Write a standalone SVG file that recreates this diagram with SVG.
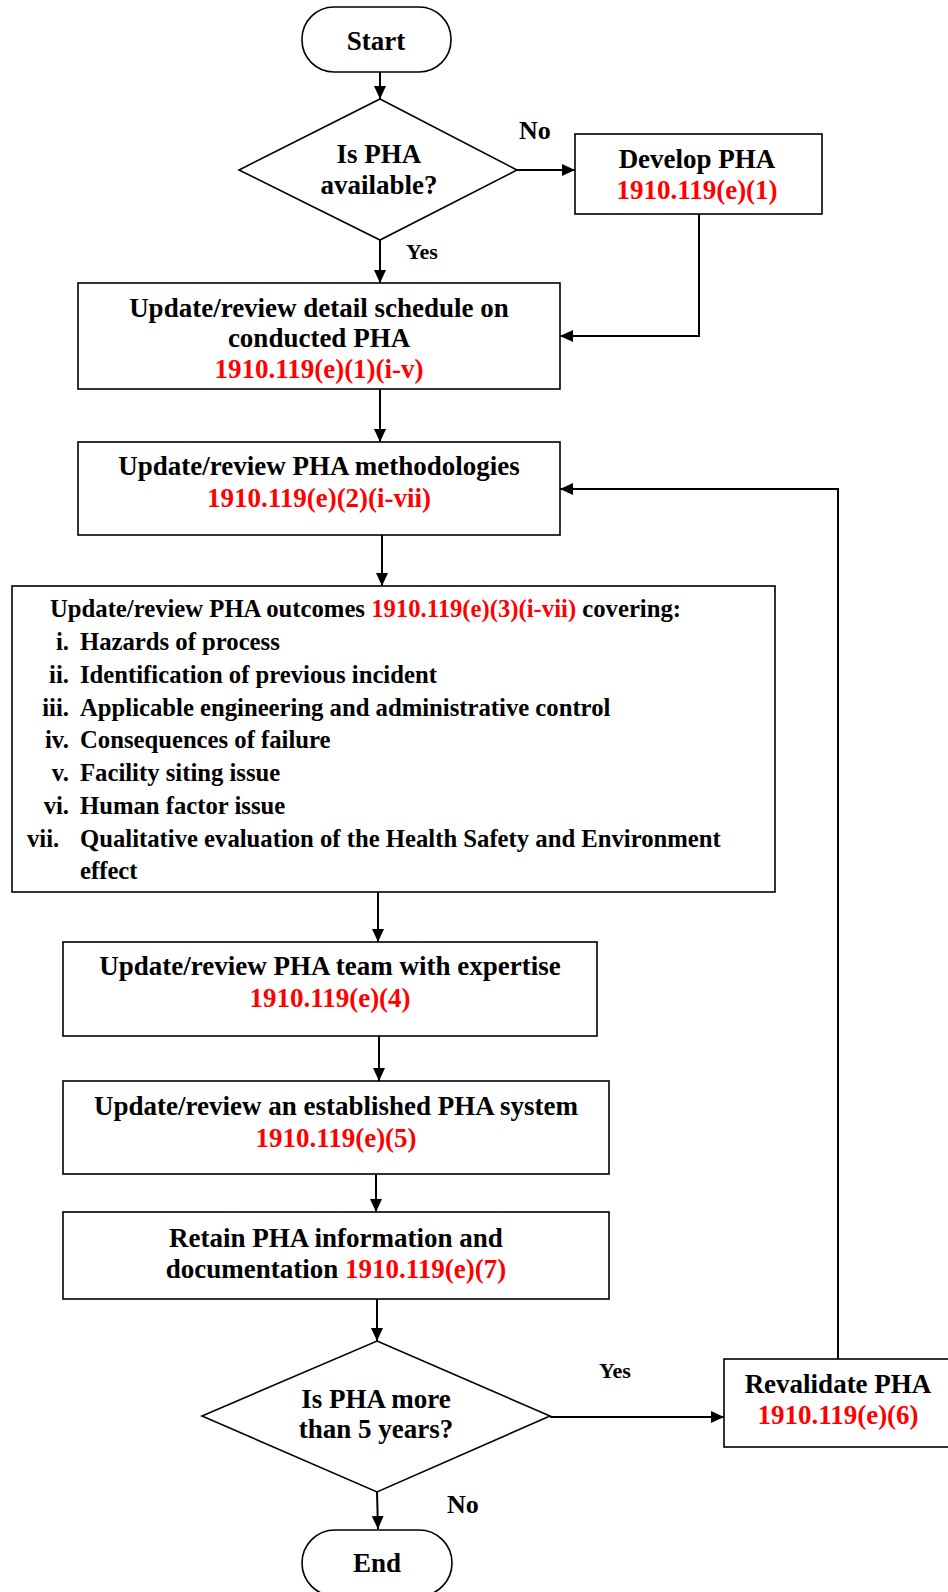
<svg xmlns="http://www.w3.org/2000/svg" width="948" height="1592" viewBox="0 0 948 1592">
<style>
  .shape { fill: #ffffff; stroke: #000000; stroke-width: 1.6; }
  .conn { fill: none; stroke: #000000; stroke-width: 2; }
  text { font-family: "Liberation Serif", "Times New Roman", serif; font-weight: bold; fill: #000000; }
  .t { font-size: 27px; text-anchor: middle; }
  .s { font-size: 24.7px; }
  .r { fill: #ff0000; }
  .yes { font-size: 22px; }
  .no { font-size: 26px; }
  .num { text-anchor: end; }
</style>
<defs>
  <marker id="arrow" markerUnits="userSpaceOnUse" markerWidth="14" markerHeight="12" refX="13" refY="6" orient="auto">
    <path d="M0,0 L13,6 L0,12 Z" fill="#000000"/>
  </marker>
</defs>
<rect width="948" height="1592" fill="#ffffff"/>

<g id="connectors">
  <line class="conn" x1="380" y1="72" x2="380" y2="99" marker-end="url(#arrow)"/>
  <line class="conn" x1="517" y1="170" x2="575" y2="170" marker-end="url(#arrow)"/>
  <polyline class="conn" points="699,214 699,336 560,336" marker-end="url(#arrow)"/>
  <line class="conn" x1="380" y1="240" x2="380" y2="283" marker-end="url(#arrow)"/>
  <line class="conn" x1="380" y1="389" x2="380" y2="442" marker-end="url(#arrow)"/>
  <line class="conn" x1="382" y1="535" x2="382" y2="586" marker-end="url(#arrow)"/>
  <line class="conn" x1="378" y1="892" x2="378" y2="942" marker-end="url(#arrow)"/>
  <line class="conn" x1="379" y1="1036" x2="379" y2="1081" marker-end="url(#arrow)"/>
  <line class="conn" x1="376" y1="1174" x2="376" y2="1212" marker-end="url(#arrow)"/>
  <line class="conn" x1="377" y1="1299" x2="377" y2="1341" marker-end="url(#arrow)"/>
  <line class="conn" x1="550" y1="1417" x2="724" y2="1417" marker-end="url(#arrow)"/>
  <polyline class="conn" points="838,1359 838,489 560,489" marker-end="url(#arrow)"/>
  <line class="conn" x1="377" y1="1492" x2="378" y2="1529" marker-end="url(#arrow)"/>
  <text class="no" x="519" y="139">No</text>
  <text class="yes" x="406" y="259">Yes</text>
  <text class="yes" x="599" y="1378">Yes</text>
  <text class="no" x="447" y="1513">No</text>
</g>

<g id="start">
  <rect class="shape" x="302" y="7" width="149" height="65" rx="32" ry="32"/>
  <text class="t" x="376" y="50">Start</text>
</g>

<g id="decision1">
  <polygon class="shape" points="380,99 517,170 380,240 239,170"/>
  <text class="t" x="379" y="163">Is PHA</text>
  <text class="t" x="379" y="194">available?</text>
</g>

<g id="develop">
  <rect class="shape" x="575" y="134" width="247" height="80"/>
  <text class="t" x="697" y="168">Develop PHA</text>
  <text class="t r" x="697" y="199">1910.119(e)(1)</text>
</g>

<g id="schedule">
  <rect class="shape" x="78" y="283" width="482" height="106"/>
  <text class="t" x="319" y="317">Update/review detail schedule on</text>
  <text class="t" x="319" y="347">conducted PHA</text>
  <text class="t r" x="319" y="378">1910.119(e)(1)(i-v)</text>
</g>

<g id="methodologies">
  <rect class="shape" x="78" y="442" width="482" height="93"/>
  <text class="t" x="319" y="475">Update/review PHA methodologies</text>
  <text class="t r" x="319" y="507">1910.119(e)(2)(i-vii)</text>
</g>

<g id="outcomes">
  <rect class="shape" x="12" y="586" width="763" height="306"/>
  <text class="s" x="50" y="617">Update/review PHA outcomes <tspan class="r">1910.119(e)(3)(i-vii)</tspan> covering:</text>
  <text class="s num" x="69" y="650">i.</text>
  <text class="s" x="80" y="650">Hazards of process</text>
  <text class="s num" x="69" y="683">ii.</text>
  <text class="s" x="80" y="683">Identification of previous incident</text>
  <text class="s num" x="69" y="716">iii.</text>
  <text class="s" x="80" y="716">Applicable engineering and administrative control</text>
  <text class="s num" x="69" y="748">iv.</text>
  <text class="s" x="80" y="748">Consequences of failure</text>
  <text class="s num" x="69" y="781">v.</text>
  <text class="s" x="80" y="781">Facility siting issue</text>
  <text class="s num" x="69" y="814">vi.</text>
  <text class="s" x="80" y="814">Human factor issue</text>
  <text class="s" x="27" y="847">vii.</text>
  <text class="s" x="80" y="847">Qualitative evaluation of the Health Safety and Environment</text>
  <text class="s" x="80" y="879">effect</text>
</g>

<g id="team">
  <rect class="shape" x="63" y="942" width="534" height="94"/>
  <text class="t" x="330" y="975">Update/review PHA team with expertise</text>
  <text class="t r" x="330" y="1007">1910.119(e)(4)</text>
</g>

<g id="system">
  <rect class="shape" x="63" y="1081" width="546" height="93"/>
  <text class="t" x="336" y="1115">Update/review an established PHA system</text>
  <text class="t r" x="336" y="1147">1910.119(e)(5)</text>
</g>

<g id="retain">
  <rect class="shape" x="63" y="1212" width="546" height="87"/>
  <text class="t" x="336" y="1247">Retain PHA information and</text>
  <text class="t" x="336" y="1278">documentation <tspan class="r">1910.119(e)(7)</tspan></text>
</g>

<g id="decision2">
  <polygon class="shape" points="377,1341 550,1416 377,1492 202,1416"/>
  <text class="t" x="376" y="1408">Is PHA more</text>
  <text class="t" x="376" y="1438">than 5 years?</text>
</g>

<g id="revalidate">
  <rect class="shape" x="724" y="1359" width="228" height="88"/>
  <text class="t" x="838" y="1393">Revalidate PHA</text>
  <text class="t r" x="838" y="1424">1910.119(e)(6)</text>
</g>

<g id="end">
  <rect class="shape" x="302" y="1530" width="150" height="66" rx="33" ry="33"/>
  <text class="t" x="377" y="1572">End</text>
</g>
</svg>
